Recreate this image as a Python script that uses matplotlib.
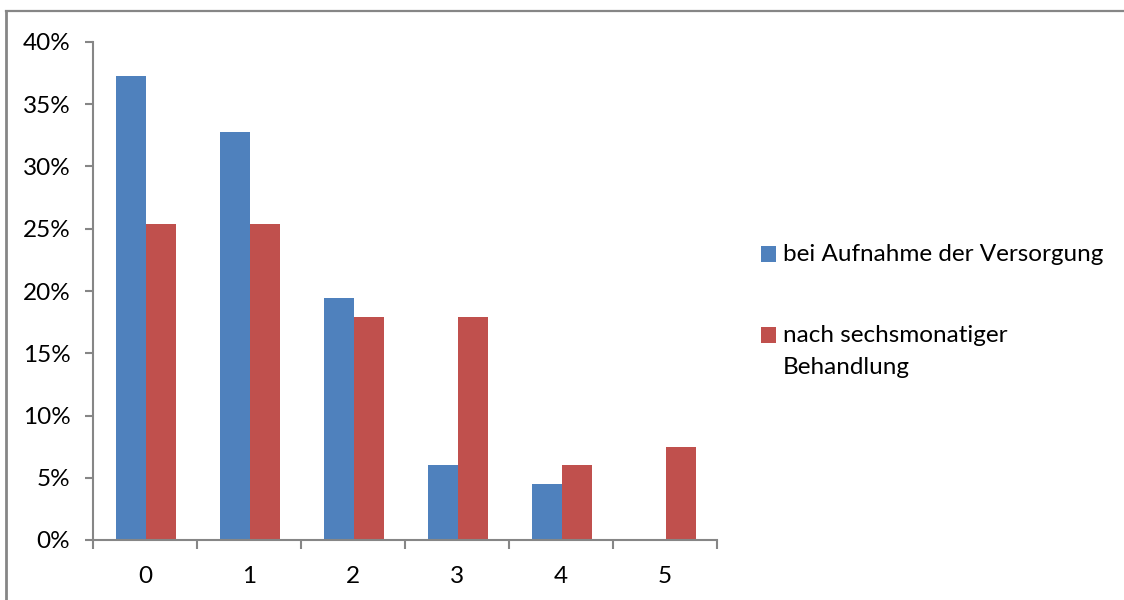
import matplotlib
matplotlib.use("Agg")
import matplotlib.pyplot as plt
from matplotlib.lines import Line2D
from matplotlib.patches import Rectangle
import numpy as np

categories = ["0", "1", "2", "3", "4", "5"]
bei_aufnahme = [37.3, 32.8, 19.4, 6.0, 4.5, 0.0]
nach_sechs_monaten = [25.4, 25.4, 17.9, 17.9, 6.0, 7.5]
series_labels = ["bei Aufnahme der Versorgung", "nach sechsmonatiger\nBehandlung"]
yticks = [0, 5, 10, 15, 20, 25, 30, 35, 40]

BLUE = "#4F81BD"
RED = "#C0504D"
GRAY = "#868686"

plt.rcParams["font.family"] = ["Lato", "DejaVu Sans"]

fig = plt.figure(figsize=(11.24, 6.0), dpi=100)
W, H = 1124, 600
ax = fig.add_axes([93 / W, 1 - 540 / H, (717 - 93) / W, (540 - 42) / H])

x = np.arange(len(categories))
bw = 0.29
ax.bar(x - bw / 2 + 0.01, bei_aufnahme, width=bw, color=BLUE)
ax.bar(x + bw / 2 + 0.01, nach_sechs_monaten, width=bw, color=RED)

ax.set_xlim(-0.5, len(categories) - 0.5)
ax.set_ylim(0, 40)
ax.set_yticks(yticks)
ax.set_yticklabels([f"{v}%" for v in yticks])
ax.set_xticks(x)
ax.set_xticklabels(categories)
ax.set_xticks(np.arange(-0.5, len(categories)), minor=True)

for s in ["top", "right"]:
    ax.spines[s].set_visible(False)
for s in ["left", "bottom"]:
    ax.spines[s].set_color(GRAY)
    ax.spines[s].set_linewidth(1.5)

ax.tick_params(axis="y", direction="out", length=5.8, width=1.5, color=GRAY,
               labelsize=17.5, pad=10.5, labelcolor="black")
ax.tick_params(axis="x", which="major", length=0, labelsize=17.5, pad=19, labelcolor="black")
ax.tick_params(axis="x", which="minor", direction="out", length=6.5, width=1.5, color=GRAY)

# legend: colour squares with labels to the right
legend_rows = [(BLUE, 254), (RED, 335)]
for (color, yc), label in zip(legend_rows, series_labels):
    fig.add_artist(Rectangle((761 / W, 1 - (yc + 8) / H), 15 / W, 16 / H,
                             transform=fig.transFigure, facecolor=color,
                             edgecolor="none"))
    fig.text(783 / W, 1 - (yc - 10) / H, label, ha="left", va="top",
             fontsize=17.5, linespacing=1.65)

# outer frame lines (left and top)
fig.add_artist(Line2D([6.5 / W, 6.5 / W], [0, 1 - 11 / H], transform=fig.transFigure,
                      color=GRAY, linewidth=2.0))
fig.add_artist(Line2D([6.5 / W, 1], [1 - 11 / H, 1 - 11 / H], transform=fig.transFigure,
                      color=GRAY, linewidth=1.6))

fig.savefig("out.png", dpi=100)
